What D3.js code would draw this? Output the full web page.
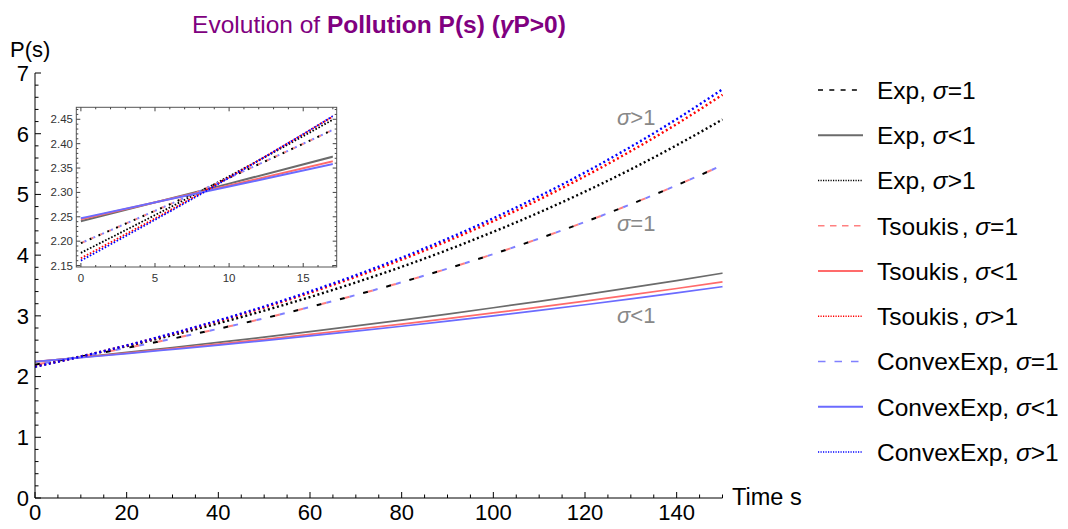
<!DOCTYPE html>
<html>
<head>
<meta charset="utf-8">
<script src="https://cdn.jsdelivr.net/npm/d3@7"></script>
<style>
  body { margin: 0; background: #fff; }
  svg { display: block; font-family: "Liberation Sans", Arial, sans-serif; }
</style>
</head>
<body>
<svg id="chart" width="1068" height="529"></svg>
<script>
// Time grid (s) at which P(s) is tabulated
const times = [0, 10, 20, 30, 40, 50, 60, 70, 80, 90, 100, 110, 120, 130, 140, 150];

// Exponential damage
const expSigmaEq = [2.196, 2.330, 2.472, 2.624, 2.787, 2.960, 3.145, 3.343, 3.553, 3.778, 4.018, 4.274, 4.547, 4.839, 5.150, 5.482];
const expSigmaLt = [2.241, 2.318, 2.397, 2.479, 2.563, 2.650, 2.741, 2.834, 2.930, 3.030, 3.133, 3.240, 3.350, 3.464, 3.581, 3.703];
const expSigmaGt = [2.176, 2.333, 2.501, 2.683, 2.877, 3.086, 3.310, 3.550, 3.808, 4.086, 4.384, 4.703, 5.046, 5.414, 5.810, 6.234];

// Tsoukis damage
const tsoSigmaEq = [2.196, 2.330, 2.472, 2.624, 2.787, 2.960, 3.145, 3.343, 3.553, 3.778, 4.018, 4.274, 4.547, 4.839, 5.150, 5.482];
const tsoSigmaLt = [2.245, 2.314, 2.385, 2.459, 2.535, 2.613, 2.695, 2.779, 2.865, 2.955, 3.048, 3.144, 3.243, 3.345, 3.451, 3.560];
const tsoSigmaGt = [2.165, 2.331, 2.511, 2.704, 2.913, 3.138, 3.381, 3.643, 3.926, 4.232, 4.561, 4.916, 5.300, 5.714, 6.159, 6.642];

// Convex exponential damage
const cvxSigmaEq = [2.196, 2.330, 2.472, 2.624, 2.787, 2.960, 3.145, 3.343, 3.553, 3.778, 4.018, 4.274, 4.547, 4.839, 5.150, 5.482];
const cvxSigmaLt = [2.247, 2.312, 2.378, 2.448, 2.519, 2.593, 2.669, 2.748, 2.829, 2.913, 3.000, 3.090, 3.183, 3.279, 3.378, 3.481];
const cvxSigmaGt = [2.160, 2.330, 2.513, 2.711, 2.924, 3.154, 3.402, 3.670, 3.959, 4.271, 4.607, 4.970, 5.362, 5.785, 6.240, 6.733];

// Axis ticks
const xTicks = [0, 20, 40, 60, 80, 100, 120, 140];
const yTicks = [0, 1, 2, 3, 4, 5, 6, 7];
const insetXTicks = [0, 5, 10, 15];
const insetYTicks = [2.15, 2.20, 2.25, 2.30, 2.35, 2.40, 2.45];

// Legend entries
const legendNames = ["Exp", "Exp", "Exp", "Tsoukis", "Tsoukis", "Tsoukis", "ConvexExp", "ConvexExp", "ConvexExp"];
const legendRelations = ["=1", "<1", ">1", "=1", "<1", ">1", "=1", "<1", ">1"];

// In-plot group labels
const groupRelations = [">1", "=1", "<1"];

// ---- styling of each curve ----
const colors = {
  expEq: "#000000", expLt: "#6b6b6b", expGt: "#000000",
  tsoEq: "#ff8080", tsoLt: "#ff6b6b", tsoGt: "#ff0000",
  cvxEq: "#8080ff", cvxLt: "#6b6bff", cvxGt: "#0000ff"
};

const series = [
  { v: expSigmaEq, c: colors.expEq, kind: "dash", phase: 0 },
  { v: expSigmaLt, c: colors.expLt, kind: "solid" },
  { v: expSigmaGt, c: colors.expGt, kind: "dot" },
  { v: tsoSigmaEq, c: colors.tsoEq, kind: "dash", phase: 1 },
  { v: tsoSigmaLt, c: colors.tsoLt, kind: "solid" },
  { v: tsoSigmaGt, c: colors.tsoGt, kind: "dot" },
  { v: cvxSigmaEq, c: colors.cvxEq, kind: "dash", phase: 2 },
  { v: cvxSigmaLt, c: colors.cvxLt, kind: "solid" },
  { v: cvxSigmaGt, c: colors.cvxGt, kind: "dot" }
];

const svg = d3.select("#chart");
const defs = svg.append("defs");

// ---- main plot ----
const x = d3.scaleLinear().domain([0, 150]).range([35, 722.5]);
const y = d3.scaleLinear().domain([0, 7]).range([498, 73]);

defs.append("clipPath").attr("id", "mainClip")
  .append("rect").attr("x", 35).attr("y", 60).attr("width", 690).attr("height", 440);

// The three sigma=1 curves coincide; their dashes are staggered so each colour shows.
function styleLine(sel, s, dashUnit, dotSpec, widths) {
  sel.attr("fill", "none").attr("stroke", s.c);
  if (s.kind === "solid") {
    sel.attr("stroke-width", widths.solid);
  } else if (s.kind === "dot") {
    sel.attr("stroke-width", widths.dot).attr("stroke-dasharray", dotSpec);
  } else {
    sel.attr("stroke-width", widths.dash)
      .attr("stroke-dasharray", `${dashUnit},${dashUnit * 3.8}`)
      .attr("stroke-dashoffset", -s.phase * dashUnit);
  }
}

const lineXY = (xs, ys) => d3.line().x(d => xs(d[0])).y(d => ys(d[1])).curve(d3.curveMonotoneX);

const plotG = svg.append("g").attr("clip-path", "url(#mainClip)");
series.forEach(s => {
  const pts = times.map((t, i) => [t, s.v[i]]);
  plotG.append("path").datum(pts).attr("d", lineXY(x, y))
    .call(styleLine, s, 5, "2,2.7", { solid: 1.7, dot: 2.4, dash: 2 });
});

// axes
const axisG = svg.append("g").attr("stroke", "#000").attr("stroke-width", 1);
axisG.append("line").attr("x1", x(0)).attr("x2", x(150)).attr("y1", y(0)).attr("y2", y(0));
axisG.append("line").attr("x1", x(0)).attr("x2", x(0)).attr("y1", y(0)).attr("y2", y(7));

// x ticks (major every 20, minor every 5)
d3.range(0, 151, 5).forEach(t => {
  const major = t % 20 === 0;
  axisG.append("line").attr("x1", x(t)).attr("x2", x(t))
    .attr("y1", y(0)).attr("y2", y(0) - (major ? 6 : 3.5));
});
// y ticks (major every 1, minor every 0.2)
d3.range(0, 36).map(k => k / 5).forEach(v => {
  const major = Math.abs(v - Math.round(v)) < 1e-9;
  axisG.append("line").attr("x1", x(0)).attr("x2", x(0) + (major ? 6 : 3.5))
    .attr("y1", y(v)).attr("y2", y(v));
});

svg.append("g").selectAll("text").data(xTicks).join("text")
  .attr("x", d => x(d)).attr("y", 520)
  .attr("text-anchor", "middle").attr("font-size", 22).attr("fill", "#000")
  .text(d => d);

svg.append("g").selectAll("text").data(yTicks).join("text")
  .attr("x", 29).attr("y", d => y(d)).attr("dy", "0.36em")
  .attr("text-anchor", "end").attr("font-size", 22).attr("fill", "#000")
  .text(d => d);

svg.append("text").attr("x", 10).attr("y", 57).attr("font-size", 22).text("P(s)");
svg.append("text").attr("x", 732).attr("y", 505).attr("font-size", 23.5).text("Time s");

// title
const title = svg.append("text").attr("x", 379).attr("y", 33)
  .attr("text-anchor", "middle").attr("font-size", 24.5).attr("fill", "#800080");
title.append("tspan").text("Evolution of ");
title.append("tspan").attr("font-weight", "bold").text("Pollution P(s) (");
title.append("tspan").attr("font-weight", "bold").attr("font-style", "italic").text("γ");
title.append("tspan").attr("font-weight", "bold").text("P>0)");

// group labels inside the plot
const groupY = [125, 231, 323];
groupRelations.forEach((r, i) => {
  const t = svg.append("text").attr("x", 617).attr("y", groupY[i])
    .attr("font-size", 22).attr("fill", "#888");
  t.append("tspan").attr("font-style", "italic").text("σ");
  t.append("tspan").text(r);
});

// ---- inset: zoom on the first 17 time units ----
const insetL = 76.3, insetR = 336.7, insetT = 107.3, insetB = 267;
const ix = d3.scaleLinear().domain([-0.31, 17.26]).range([insetL, insetR]);
const iy = d3.scaleLinear().domain([2.147, 2.4746]).range([insetB, insetT]);

svg.append("rect").attr("x", insetL).attr("y", insetT)
  .attr("width", insetR - insetL).attr("height", insetB - insetT).attr("fill", "#fff");

// curves stop at t = 17
defs.append("clipPath").attr("id", "insetClip")
  .append("rect").attr("x", insetL).attr("y", insetT)
  .attr("width", ix(17) - insetL).attr("height", insetB - insetT);

const insetG = svg.append("g").attr("clip-path", "url(#insetClip)");
series.forEach(s => {
  const pts = times.map((t, i) => [t, s.v[i]]).filter(p => p[0] <= 30);
  insetG.append("path").datum(pts).attr("d", lineXY(ix, iy))
    .call(styleLine, s, 2, "1.6,1.8", { solid: 2, dot: 1.8, dash: 2 });
});

const insetAxis = svg.append("g").attr("stroke", "#444").attr("stroke-width", 1);
insetAxis.append("rect").attr("x", insetL).attr("y", insetT)
  .attr("width", insetR - insetL).attr("height", insetB - insetT)
  .attr("fill", "none").attr("stroke", "#555");
d3.range(0, 18, 1).forEach(t => {
  const len = t % 5 === 0 ? 4 : 2;
  insetAxis.append("line").attr("x1", ix(t)).attr("x2", ix(t)).attr("y1", insetB).attr("y2", insetB - len);
  insetAxis.append("line").attr("x1", ix(t)).attr("x2", ix(t)).attr("y1", insetT).attr("y2", insetT + len);
});
d3.range(215, 248, 1).map(k => k / 100).forEach(v => {
  const len = Math.round(v * 100) % 5 === 0 ? 4 : 2;
  insetAxis.append("line").attr("x1", insetL).attr("x2", insetL + len).attr("y1", iy(v)).attr("y2", iy(v));
  insetAxis.append("line").attr("x1", insetR).attr("x2", insetR - len).attr("y1", iy(v)).attr("y2", iy(v));
});

svg.append("g").selectAll("text").data(insetXTicks).join("text")
  .attr("x", d => ix(d)).attr("y", 282)
  .attr("text-anchor", "middle").attr("font-size", 11.5).attr("fill", "#333")
  .text(d => d);
svg.append("g").selectAll("text").data(insetYTicks).join("text")
  .attr("x", 73).attr("y", d => iy(d)).attr("dy", "0.35em")
  .attr("text-anchor", "end").attr("font-size", 11.5).attr("fill", "#333")
  .text(d => d3.format(".2f")(d));

// ---- legend ----
const legendY = d3.range(9).map(i => 90 + i * 45.25);
const legendDash = {
  dash: ["5,6.3", "6.5,5.5", "7.5,9"],
  dot: "1.2,1.3"
};
const legendG = svg.append("g");
series.forEach((s, i) => {
  const ln = legendG.append("line")
    .attr("x1", 818).attr("x2", 863).attr("y1", legendY[i]).attr("y2", legendY[i])
    .attr("stroke", s.c);
  if (s.kind === "solid") ln.attr("stroke-width", 2);
  else if (s.kind === "dot") ln.attr("stroke-width", 1.6).attr("stroke-dasharray", legendDash.dot);
  else ln.attr("stroke-width", 1.6).attr("stroke-dasharray", legendDash.dash[s.phase]);

  const t = legendG.append("text").attr("x", 877).attr("y", legendY[i]).attr("dy", "0.36em")
    .attr("font-size", 24.5).attr("fill", "#000");
  t.append("tspan").text(legendNames[i]);
  t.append("tspan").attr("dx", legendNames[i] === "Tsoukis" ? 3 : 0).text(", ");
  t.append("tspan").attr("font-style", "italic").text("σ");
  t.append("tspan").text(legendRelations[i]);
});
</script>
</body>
</html>
